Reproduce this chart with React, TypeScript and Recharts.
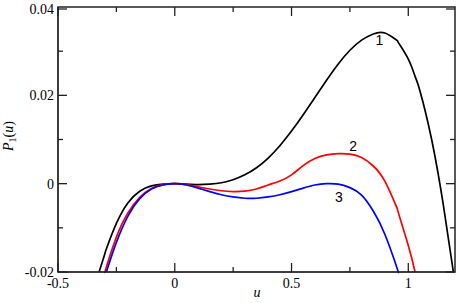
import React from "react";
import { LineChart, Line, XAxis, YAxis, ReferenceDot } from "recharts";

// u grid and the three curves (each curve ends where it leaves the frame)
const U = [
  -0.324, -0.3, -0.293, -0.25, -0.2, -0.15, -0.1, -0.05, 0, 0.05, 0.1, 0.15, 0.2, 0.25,
  0.3, 0.35, 0.4, 0.45, 0.5, 0.55, 0.6, 0.65, 0.7, 0.75, 0.8, 0.85, 0.9, 0.95, 0.957,
  1.0, 1.029, 1.05, 1.1, 1.15, 1.193,
];
const P1 = [
  -0.02, -0.016, -0.0148, -0.009, -0.0043, -0.0017, -0.0005, -0.0001, 0, -0.0001, -0.0002,
  -0.0001, 0.0002, 0.0009, 0.002, 0.0036, 0.0058, 0.0086, 0.0119, 0.0156, 0.0195, 0.0234,
  0.0271, 0.0302, 0.0325, 0.0339, 0.0341, 0.0325, 0.032, 0.0282, 0.0243, 0.021, 0.01,
  -0.0048, -0.02,
];
const P2 = [
  null, -0.02, -0.0189, -0.0121, -0.0066, -0.0031, -0.0011, -0.0002, 0, -0.0002, -0.0007,
  -0.0012, -0.0016, -0.0018, -0.0017, -0.0012, -0.0003, 0.0006, 0.002, 0.0041, 0.0057,
  0.0065, 0.0068, 0.0067, 0.0059, 0.004, 0.0005, -0.0053, -0.0065, -0.014, -0.02,
  null, null, null, null,
];
const P3 = [
  null, null, -0.02, -0.0133, -0.0073, -0.0034, -0.0012, -0.0003, 0, -0.0003, -0.001,
  -0.0018, -0.0025, -0.003, -0.0033, -0.0033, -0.003, -0.0025, -0.0018, -0.001, -0.0003,
  0, -0.0001, -0.0009, -0.0026, -0.0062, -0.0115, -0.0188, -0.02,
  null, null, null, null, null, null,
];

const X_TICKS = [-0.5, -0.25, 0, 0.25, 0.5, 0.75, 1];
const Y_TICKS = [-0.02, -0.01, 0, 0.01, 0.02, 0.03, 0.04];

const data = U.map((u, i) => ({ u, p1: P1[i], p2: P2[i], p3: P3[i] }));

// chart box
const W = 460;
const H = 303;
const M = { top: 7, right: 5, bottom: 0, left: 0 };
const Y_AXIS_W = 58;
const X_AXIS_H = 31;
const PLOT_W = W - M.left - M.right - Y_AXIS_W;
const PLOT_H = H - M.top - M.bottom - X_AXIS_H;

const INK = "#222";
const SERIF = "'Liberation Serif', 'Times New Roman', serif";
const SANS = "'Liberation Sans', Arial, sans-serif";

const isMajorX = (v: number) => Math.abs(v * 2 - Math.round(v * 2)) < 1e-6;
const isMajorY = (v: number) => Math.abs(v / 0.02 - Math.round(v / 0.02)) < 1e-6;

// bottom ticks also draw the mirrored top ticks; the first one draws the frame
const BottomTick = (props: any) => {
  const x = Number(props.x);
  const y = Number(props.y);
  const v = props.payload.value;
  const major = isMajorX(v);
  const len = major ? 9 : 5;
  const top = y - PLOT_H;
  return (
    <g>
      {v === X_TICKS[0] && (
        <rect x={x} y={top} width={PLOT_W} height={PLOT_H} fill="none" stroke={INK} strokeWidth={1.5} />
      )}
      <line x1={x} x2={x} y1={y} y2={y - len} stroke={INK} strokeWidth={1.3} />
      <line x1={x} x2={x} y1={top} y2={top + len} stroke={INK} strokeWidth={1.3} />
      {major && (
        <text x={x} y={y + 16} textAnchor="middle" fontFamily={SERIF} fontSize={14} fill="#000">
          {String(v)}
        </text>
      )}
    </g>
  );
};

// left ticks also draw the mirrored right ticks
const LeftTick = (props: any) => {
  const x = Number(props.x);
  const y = Number(props.y);
  const v = props.payload.value;
  const major = isMajorY(v);
  const len = major ? 9 : 5;
  const right = x + PLOT_W;
  return (
    <g>
      <line x1={x} x2={x + len} y1={y} y2={y} stroke={INK} strokeWidth={1.3} />
      <line x1={right} x2={right - len} y1={y} y2={y} stroke={INK} strokeWidth={1.3} />
      {major && (
        <text x={x - 4} y={y} dy="0.35em" textAnchor="end" fontFamily={SERIF} fontSize={14} fill="#000">
          {String(v)}
        </text>
      )}
    </g>
  );
};

const XLabel = () => (
  <text x={257} y={297} textAnchor="middle" fontFamily={SERIF} fontSize={14} fontStyle="italic" fill="#000">
    u
  </text>
);

const YLabel = () => (
  <text transform="rotate(-90)" x={-136} y={13} textAnchor="middle" fontFamily={SERIF} fontSize={14} fill="#000">
    <tspan fontStyle="italic">P</tspan>
    <tspan fontSize={10} dy={3}>1</tspan>
    <tspan dy={-3}>(</tspan>
    <tspan fontStyle="italic">u</tspan>
    <tspan>)</tspan>
  </text>
);

const curveLabel = (value: string) => ({
  value,
  position: "center" as const,
  fontSize: 14,
  fontFamily: SANS,
  fill: "#000",
});

export default function App() {
  return (
    <div style={{ position: "absolute", left: 0, top: 0 }}>
      <LineChart width={W} height={H} data={data} margin={M}>
        <XAxis
          dataKey="u"
          type="number"
          domain={[-0.5, 1.2]}
          ticks={X_TICKS}
          height={X_AXIS_H}
          stroke={INK}
          tickSize={0}
          tickMargin={0}
          tickLine={false}
          tick={BottomTick}
          label={XLabel}
        />
        <YAxis
          type="number"
          domain={[-0.02, 0.04]}
          ticks={Y_TICKS}
          width={Y_AXIS_W}
          stroke={INK}
          tickSize={0}
          tickMargin={0}
          tickLine={false}
          tick={LeftTick}
          label={YLabel}
        />
        <Line dataKey="p1" type="natural" stroke="#000" strokeWidth={1.7} dot={false} isAnimationActive={false} />
        <Line dataKey="p2" type="natural" stroke="#ff0000" strokeWidth={1.7} dot={false} isAnimationActive={false} />
        <Line dataKey="p3" type="natural" stroke="#0000ff" strokeWidth={1.7} dot={false} isAnimationActive={false} />
        <ReferenceDot x={0.876} y={0.0326} r={0} stroke="none" fill="none" label={curveLabel("1")} />
        <ReferenceDot x={0.764} y={0.0085} r={0} stroke="none" fill="none" label={curveLabel("2")} />
        <ReferenceDot x={0.703} y={-0.003} r={0} stroke="none" fill="none" label={curveLabel("3")} />
      </LineChart>
    </div>
  );
}
